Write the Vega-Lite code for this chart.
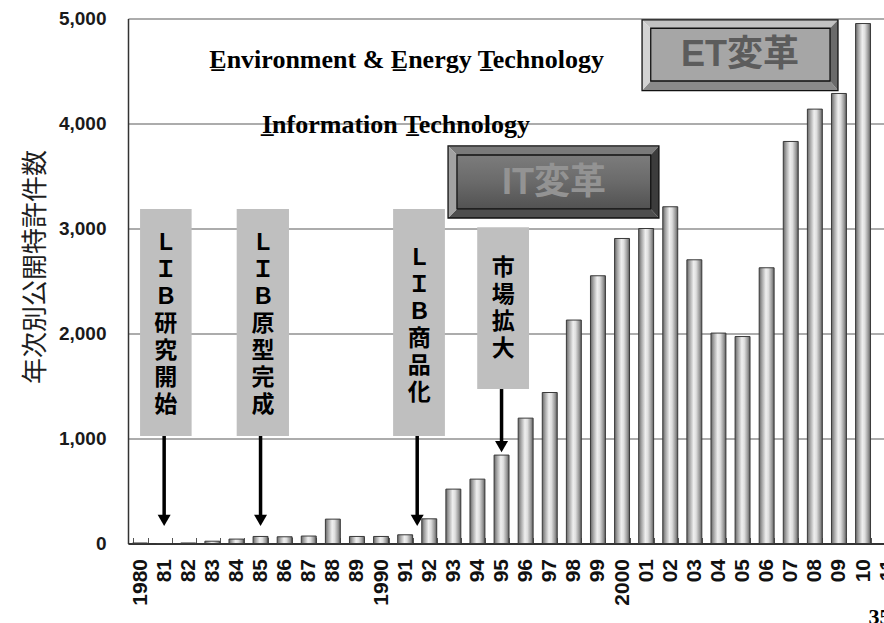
{
  "$schema": "https://vega.github.io/schema/vega-lite/v6.json",
  "width": 756,
  "height": 525,
  "autosize": {"type": "none"},
  "padding": {"left": 128, "top": 18.5, "right": 0, "bottom": 79.5},
  "background": "white",
  "config": {"view": {"stroke": null}, "font": "Liberation Sans"},
  "datasets": {
    "patents": [
      {"label": "1980", "n": 5}, {"label": "81", "n": 0}, {"label": "82", "n": 5},
      {"label": "83", "n": 22}, {"label": "84", "n": 42}, {"label": "85", "n": 67},
      {"label": "86", "n": 64}, {"label": "87", "n": 71}, {"label": "88", "n": 232},
      {"label": "89", "n": 67}, {"label": "1990", "n": 67}, {"label": "91", "n": 83},
      {"label": "92", "n": 235}, {"label": "93", "n": 518}, {"label": "94", "n": 613},
      {"label": "95", "n": 842}, {"label": "96", "n": 1194}, {"label": "97", "n": 1438},
      {"label": "98", "n": 2128}, {"label": "99", "n": 2550}, {"label": "2000", "n": 2905},
      {"label": "01", "n": 3000}, {"label": "02", "n": 3207}, {"label": "03", "n": 2702},
      {"label": "04", "n": 2004}, {"label": "05", "n": 1971}, {"label": "06", "n": 2626},
      {"label": "07", "n": 3829}, {"label": "08", "n": 4137}, {"label": "09", "n": 4286},
      {"label": "10", "n": 4952}
    ],
    "events": [
      {"x0": 0.5, "x1": 2.64, "xc": 1.57, "top": 3186, "bottom": 1024, "first": 2862, "ax": 1.5, "head": 220, "label": "Ｌ\nＩ\nＢ\n研\n究\n開\n始"},
      {"x0": 4.51, "x1": 6.68, "xc": 5.6, "top": 3186, "bottom": 1024, "first": 2862, "ax": 5.5, "head": 220, "label": "Ｌ\nＩ\nＢ\n原\n型\n完\n成"},
      {"x0": 11.0, "x1": 13.15, "xc": 12.08, "top": 3186, "bottom": 1024, "first": 2719, "ax": 12.0, "head": 220, "label": "Ｌ\nＩ\nＢ\n商\n品\n化"},
      {"x0": 14.49, "x1": 16.64, "xc": 15.57, "top": 3011, "bottom": 1471, "first": 2624, "ax": 15.5, "head": 922, "label": "市\n場\n拡\n大"}
    ]
  },
  "layer": [
    {
      "data": {"name": "patents"},
      "mark": {
        "type": "bar",
        "fill": {"gradient": "linear", "x1": 0, "y1": 0, "x2": 1, "y2": 0,
          "stops": [
            {"offset": 0, "color": "#666666"},
            {"offset": 0.18, "color": "#a3a3a3"},
            {"offset": 0.45, "color": "#efefef"},
            {"offset": 0.62, "color": "#dedede"},
            {"offset": 0.85, "color": "#999999"},
            {"offset": 1, "color": "#5c5c5c"}
          ]},
        "stroke": "#3a3a3a",
        "strokeWidth": 1
      },
      "encoding": {
        "x": {
          "field": "label", "type": "ordinal", "sort": null,
          "scale": {
            "domain": ["1980","81","82","83","84","85","86","87","88","89","1990","91","92","93","94","95","96","97","98","99","2000","01","02","03","04","05","06","07","08","09","10","11"],
            "range": [0, 771.2], "paddingInner": 0.38, "paddingOuter": 0.19
          },
          "axis": {
            "title": "35", "titleX": 740, "titleY": 79.5, "titleAlign": "left", "titleBaseline": "alphabetic",
            "titleFont": "Liberation Serif", "titleFontSize": 22, "titleFontWeight": "bold", "titleColor": "#000000",
            "labelAngle": 270, "labelFont": "Liberation Sans", "labelFontSize": 21, "labelFontWeight": "bold",
            "labelColor": "#111111", "labelPadding": 21, "labelOverlap": false,
            "ticks": true, "tickBand": "extent", "tickSize": -6, "tickColor": "#555555", "tickWidth": 1,
            "domainColor": "#333333", "domainWidth": 2, "grid": false
          }
        },
        "y": {
          "field": "n", "type": "quantitative",
          "scale": {"domain": [0, 5000], "nice": false},
          "axis": {
            "title": "年次別公開特許件数", "titleFont": "Noto Sans CJK JP", "titleFontSize": 26,
            "titleFontWeight": "normal", "titleColor": "#1e1e1e", "titleX": -93, "titleY": 248,
            "titleAngle": 270, "titleAlign": "center", "titleBaseline": "middle",
            "values": [0, 1000, 2000, 3000, 4000, 5000], "format": ",.0f",
            "labelFont": "Liberation Sans", "labelFontSize": 19, "labelFontWeight": "bold",
            "labelColor": "#1a1a1a", "labelPadding": 22, "ticks": false,
            "grid": true, "gridColor": "#5a5a5a", "gridWidth": 1.2,
            "domainColor": "#333333", "domainWidth": 1.5
          }
        }
      }
    },
    {
      "data": {"name": "events"},
      "mark": {"type": "rect", "fill": "#bfbfbf"},
      "encoding": {
        "x": {"field": "x0", "type": "quantitative", "scale": {"domain": [0, 32], "range": [0, 771.2], "nice": false, "zero": false}, "axis": null},
        "x2": {"field": "x1"},
        "y": {"field": "top", "type": "quantitative", "axis": null},
        "y2": {"field": "bottom"}
      }
    },
    {
      "data": {"name": "events"},
      "mark": {"type": "rule", "color": "#000000", "strokeWidth": 3.5},
      "encoding": {
        "x": {"field": "ax", "type": "quantitative", "scale": {"domain": [0, 32], "range": [0, 771.2], "nice": false, "zero": false}, "axis": null},
        "y": {"field": "bottom", "type": "quantitative", "axis": null},
        "y2": {"field": "head"}
      }
    },
    {
      "data": {"name": "events"},
      "mark": {"type": "point", "shape": "triangle-down", "size": 169, "filled": true, "color": "#000000", "opacity": 1},
      "encoding": {
        "x": {"field": "ax", "type": "quantitative", "scale": {"domain": [0, 32], "range": [0, 771.2], "nice": false, "zero": false}, "axis": null},
        "y": {"field": "head", "type": "quantitative", "axis": null}
      }
    },
    {
      "data": {"name": "events"},
      "mark": {"type": "text", "lineBreak": "\n", "font": "Noto Sans CJK JP", "fontSize": 23, "fontWeight": "bold", "lineHeight": 27, "align": "center", "baseline": "middle", "color": "#000000"},
      "encoding": {
        "x": {"field": "xc", "type": "quantitative", "scale": {"domain": [0, 32], "range": [0, 771.2], "nice": false, "zero": false}, "axis": null},
        "y": {"field": "first", "type": "quantitative", "axis": null},
        "text": {"field": "label"}
      }
    },
    {
      "data": {"values": [{"x0": 21.69, "x1": 29.13, "y0": 4907, "y1": 4405}]},
      "mark": {"type": "rect", "fill": "#a6a6a6"},
      "encoding": {
        "x": {"field": "x0", "type": "quantitative", "scale": {"domain": [0, 32], "range": [0, 771.2], "nice": false, "zero": false}, "axis": null},
        "x2": {"field": "x1"},
        "y": {"field": "y0", "type": "quantitative", "axis": null},
        "y2": {"field": "y1"}
      }
    },
    {
      "data": {"values": [{"x0": 13.65, "x1": 21.69, "y0": 3700, "y1": 3186}]},
      "mark": {"type": "rect", "fill": {"gradient": "linear", "x1": 0, "y1": 0, "x2": 0, "y2": 1,
        "stops": [{"offset": 0, "color": "#7c7c7c"}, {"offset": 0.5, "color": "#6a6a6a"}, {"offset": 1, "color": "#525252"}]}},
      "encoding": {
        "x": {"field": "x0", "type": "quantitative", "scale": {"domain": [0, 32], "range": [0, 771.2], "nice": false, "zero": false}, "axis": null},
        "x2": {"field": "x1"},
        "y": {"field": "y0", "type": "quantitative", "axis": null},
        "y2": {"field": "y1"}
      }
    },
    {
      "data": {"values": [
        {"part": "et-top", "px": 21.33, "y": 4986, "y2": 4986},
        {"part": "et-top", "px": 21.69, "y": 4986, "y2": 4907},
        {"part": "et-top", "px": 29.13, "y": 4986, "y2": 4907},
        {"part": "et-top", "px": 29.46, "y": 4986, "y2": 4986},
        {"part": "et-bottom", "px": 21.33, "y": 4314, "y2": 4314},
        {"part": "et-bottom", "px": 21.69, "y": 4405, "y2": 4314},
        {"part": "et-bottom", "px": 29.13, "y": 4405, "y2": 4314},
        {"part": "et-bottom", "px": 29.46, "y": 4314, "y2": 4314},
        {"part": "it-top", "px": 13.28, "y": 3786, "y2": 3786},
        {"part": "it-top", "px": 13.65, "y": 3786, "y2": 3700},
        {"part": "it-top", "px": 21.69, "y": 3786, "y2": 3700},
        {"part": "it-top", "px": 22.03, "y": 3786, "y2": 3786},
        {"part": "it-bottom", "px": 13.28, "y": 3100, "y2": 3100},
        {"part": "it-bottom", "px": 13.65, "y": 3186, "y2": 3100},
        {"part": "it-bottom", "px": 21.69, "y": 3186, "y2": 3100},
        {"part": "it-bottom", "px": 22.03, "y": 3100, "y2": 3100}
      ]},
      "mark": {"type": "area", "orient": "vertical", "opacity": 1},
      "encoding": {
        "x": {"field": "px", "type": "quantitative", "scale": {"domain": [0, 32], "range": [0, 771.2], "nice": false, "zero": false}, "axis": null},
        "y": {"field": "y", "type": "quantitative", "stack": null, "axis": null},
        "y2": {"field": "y2"},
        "color": {"field": "part", "type": "nominal", "legend": null,
          "scale": {"domain": ["et-top","et-bottom","et-left","et-right","it-top","it-bottom","it-left","it-right","et-text","it-text"],
            "range": ["#c2c2c2","#8a8a8a","#d3d3d3","#6a6a6a","#7a7a7a","#4e4e4e","#a2a2a2","#3c3c3c","#5c5c5c","#939393"]}}
      }
    },
    {
      "data": {"values": [
        {"part": "et-left", "py": 4986, "x": 21.33, "x2": 21.33},
        {"part": "et-left", "py": 4907, "x": 21.33, "x2": 21.69},
        {"part": "et-left", "py": 4405, "x": 21.33, "x2": 21.69},
        {"part": "et-left", "py": 4314, "x": 21.33, "x2": 21.33},
        {"part": "et-right", "py": 4986, "x": 29.46, "x2": 29.46},
        {"part": "et-right", "py": 4907, "x": 29.13, "x2": 29.46},
        {"part": "et-right", "py": 4405, "x": 29.13, "x2": 29.46},
        {"part": "et-right", "py": 4314, "x": 29.46, "x2": 29.46},
        {"part": "it-left", "py": 3786, "x": 13.28, "x2": 13.28},
        {"part": "it-left", "py": 3700, "x": 13.28, "x2": 13.65},
        {"part": "it-left", "py": 3186, "x": 13.28, "x2": 13.65},
        {"part": "it-left", "py": 3100, "x": 13.28, "x2": 13.28},
        {"part": "it-right", "py": 3786, "x": 22.03, "x2": 22.03},
        {"part": "it-right", "py": 3700, "x": 21.69, "x2": 22.03},
        {"part": "it-right", "py": 3186, "x": 21.69, "x2": 22.03},
        {"part": "it-right", "py": 3100, "x": 22.03, "x2": 22.03}
      ]},
      "mark": {"type": "area", "orient": "horizontal", "opacity": 1},
      "encoding": {
        "y": {"field": "py", "type": "quantitative", "axis": null},
        "x": {"field": "x", "type": "quantitative", "stack": null, "scale": {"domain": [0, 32], "range": [0, 771.2], "nice": false, "zero": false}, "axis": null},
        "x2": {"field": "x2"},
        "color": {"field": "part", "type": "nominal", "legend": null}
      }
    },
    {
      "data": {"values": [
        {"x0": 21.33, "x1": 29.46, "y0": 4986, "y1": 4314},
        {"x0": 21.69, "x1": 29.13, "y0": 4907, "y1": 4405},
        {"x0": 13.28, "x1": 22.03, "y0": 3786, "y1": 3100},
        {"x0": 13.65, "x1": 21.69, "y0": 3700, "y1": 3186}
      ]},
      "mark": {"type": "rect", "filled": false, "stroke": "#111111", "strokeWidth": 1.3},
      "encoding": {
        "x": {"field": "x0", "type": "quantitative", "scale": {"domain": [0, 32], "range": [0, 771.2], "nice": false, "zero": false}, "axis": null},
        "x2": {"field": "x1"},
        "y": {"field": "y0", "type": "quantitative", "axis": null},
        "y2": {"field": "y1"}
      }
    },
    {
      "data": {"values": [
        {"t": "ET変革", "px": 25.39, "v": 4657, "part": "et-text"},
        {"t": "IT変革", "px": 17.68, "v": 3433, "part": "it-text"}
      ]},
      "mark": {"type": "text", "font": "Liberation Sans, Noto Sans CJK JP", "fontSize": 36, "fontWeight": "bold", "align": "center", "baseline": "middle"},
      "encoding": {
        "x": {"field": "px", "type": "quantitative", "scale": {"domain": [0, 32], "range": [0, 771.2], "nice": false, "zero": false}, "axis": null},
        "y": {"field": "v", "type": "quantitative", "axis": null},
        "text": {"field": "t"},
        "color": {"field": "part", "type": "nominal", "legend": null}
      }
    },
    {
      "data": {"values": [
        {"t": "E\u0332nvironment & E\u0332nergy T\u0332echnology", "px": 11.56, "v": 4526},
        {"t": "I\u0332nformation T\u0332echnology", "px": 11.12, "v": 3905}
      ]},
      "mark": {"type": "text", "font": "Liberation Serif", "fontSize": 26, "fontWeight": "bold", "align": "center", "baseline": "alphabetic", "color": "#000000"},
      "encoding": {
        "x": {"field": "px", "type": "quantitative", "scale": {"domain": [0, 32], "range": [0, 771.2], "nice": false, "zero": false}, "axis": null},
        "y": {"field": "v", "type": "quantitative", "axis": null},
        "text": {"field": "t"}
      }
    }
  ],
  "resolve": {"scale": {"x": "independent"}, "axis": {"x": "independent", "y": "independent"}}
}
